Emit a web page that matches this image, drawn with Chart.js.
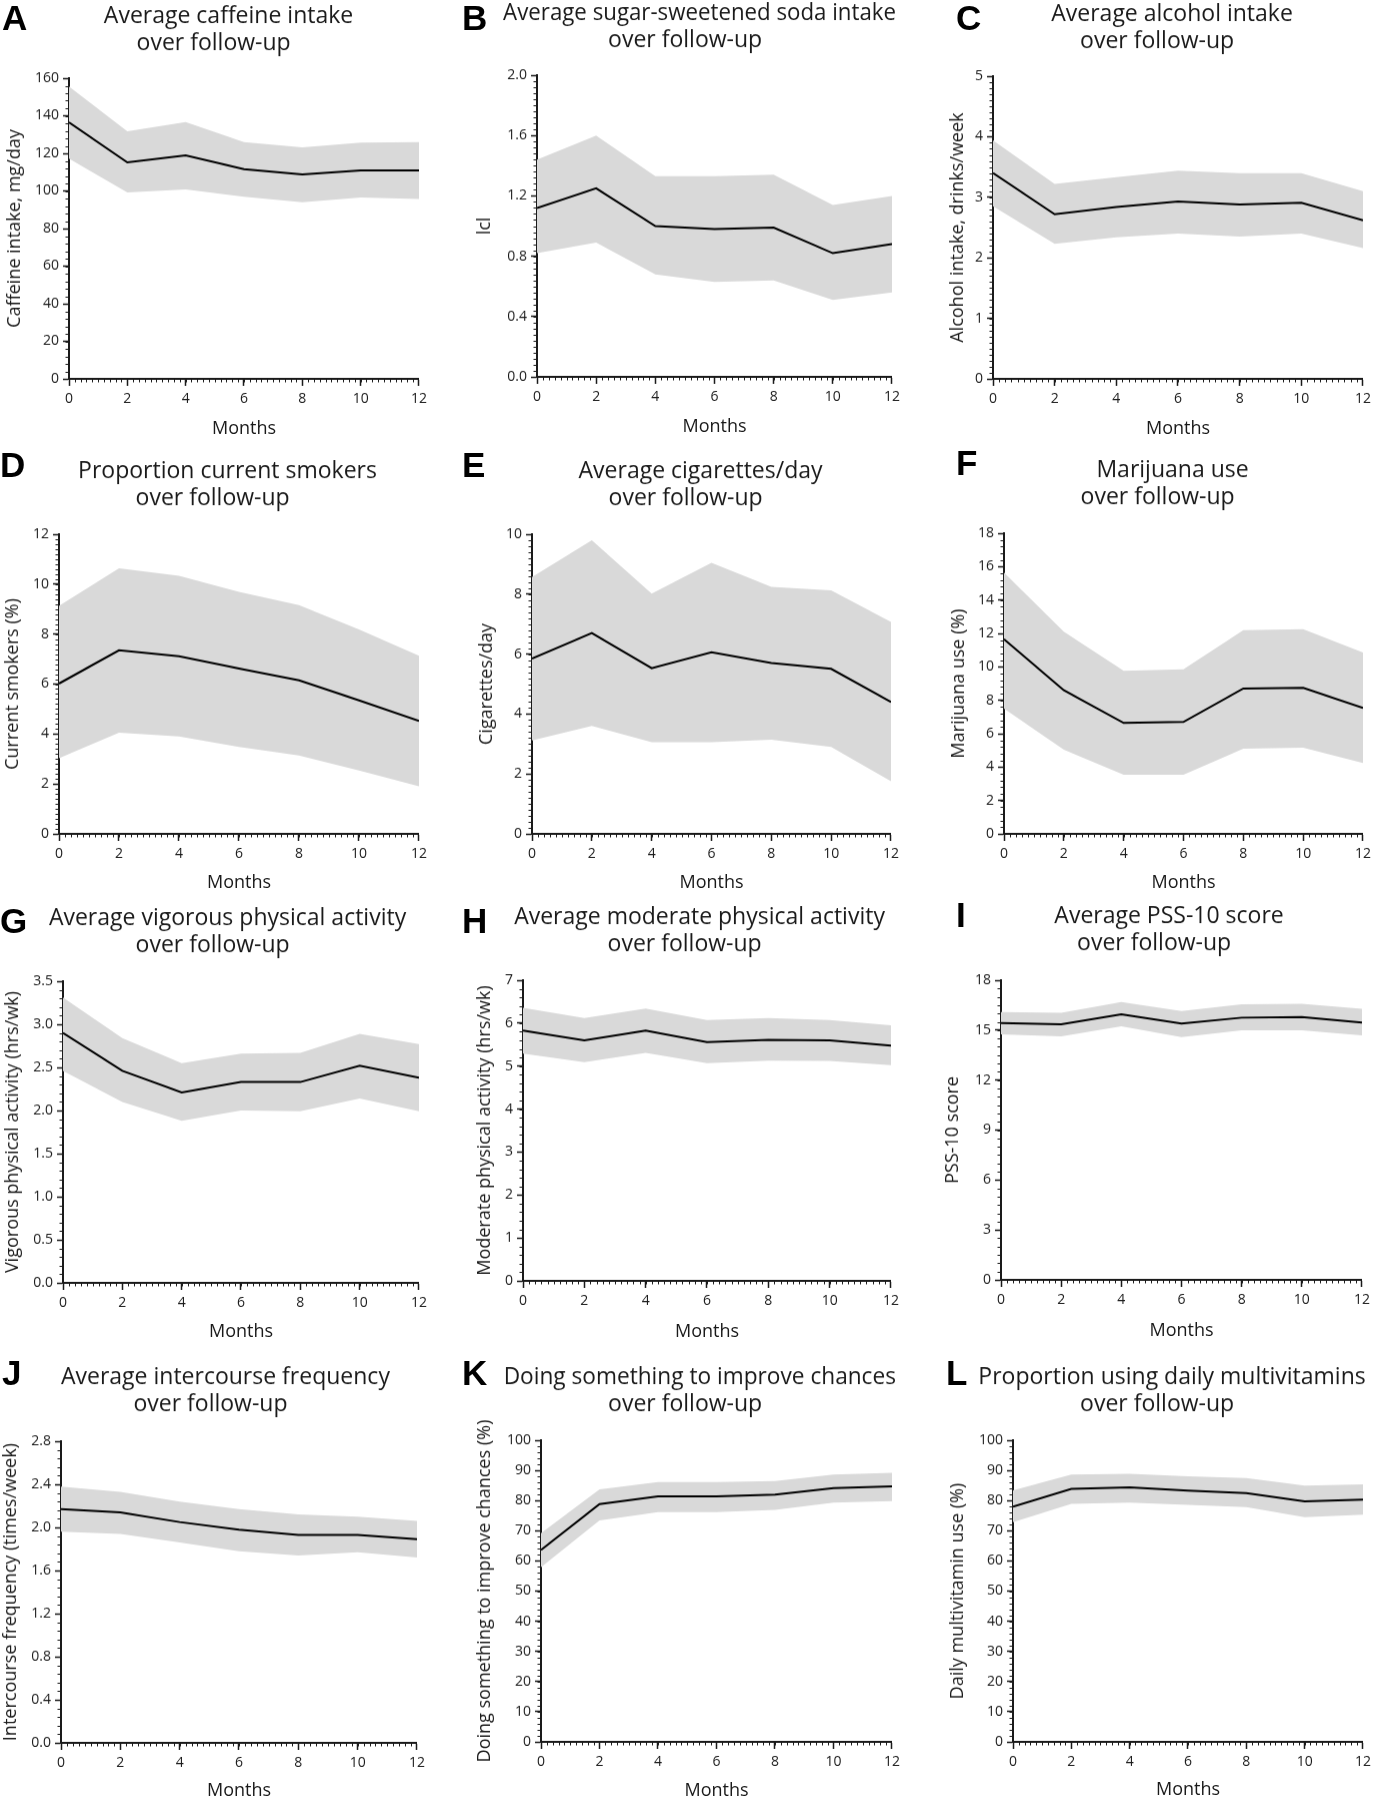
<!DOCTYPE html>
<html>
<head>
<meta charset="utf-8">
<script src="https://cdn.jsdelivr.net/npm/chart.js@4"></script>
<style>
  html, body { margin: 0; padding: 0; background: #fff; overflow: hidden; }
  body { width: 1376px; height: 1800px; position: relative; }
  .panel { position: absolute; }
  .letter { position: absolute; font: bold 35px/35px "Liberation Sans", Arial, sans-serif; color: #000; }
</style>
</head>
<body>
<script>
const months = [0, 2, 4, 6, 8, 10, 12];

// A caffeine
const caffeineMean  = [136.5, 115.2, 118.9, 111.6, 108.8, 110.9, 110.9];
const caffeineUpper = [155.6, 131.7, 136.7, 126.0, 123.2, 125.7, 126.0];
const caffeineLower = [117.2, 99.2, 100.8, 97.0, 94.0, 96.5, 95.8];
// B soda
const sodaMean  = [1.12, 1.25, 1.00, 0.98, 0.99, 0.82, 0.88];
const sodaUpper = [1.44, 1.60, 1.33, 1.33, 1.34, 1.14, 1.20];
const sodaLower = [0.82, 0.89, 0.68, 0.63, 0.64, 0.51, 0.56];
// C alcohol
const alcoholMean  = [3.40, 2.72, 2.84, 2.93, 2.88, 2.91, 2.62];
const alcoholUpper = [3.94, 3.22, 3.33, 3.44, 3.40, 3.40, 3.10];
const alcoholLower = [2.85, 2.23, 2.34, 2.40, 2.35, 2.40, 2.16];
// D smokers
const smokersMean  = [6.02, 7.35, 7.11, 6.62, 6.15, 5.35, 4.52];
const smokersUpper = [9.13, 10.64, 10.33, 9.69, 9.16, 8.19, 7.13];
const smokersLower = [3.03, 4.05, 3.90, 3.48, 3.14, 2.54, 1.91];
// E cigarettes
const cigMean  = [5.85, 6.70, 5.53, 6.06, 5.70, 5.51, 4.40];
const cigUpper = [8.57, 9.80, 8.02, 9.05, 8.24, 8.13, 7.07];
const cigLower = [3.12, 3.60, 3.06, 3.06, 3.14, 2.90, 1.76];
// F marijuana
const marijuanaMean  = [11.66, 8.60, 6.64, 6.70, 8.70, 8.74, 7.54];
const marijuanaUpper = [15.64, 12.10, 9.76, 9.86, 12.20, 12.26, 10.86];
const marijuanaLower = [7.50, 5.04, 3.54, 3.54, 5.10, 5.16, 4.24];
// G vigorous activity
const vigorousMean  = [2.90, 2.46, 2.21, 2.33, 2.33, 2.52, 2.38];
const vigorousUpper = [3.31, 2.84, 2.55, 2.66, 2.67, 2.89, 2.77];
const vigorousLower = [2.46, 2.10, 1.88, 2.00, 1.99, 2.14, 1.99];
// H moderate activity
const moderateMean  = [5.83, 5.60, 5.83, 5.56, 5.61, 5.60, 5.48];
const moderateUpper = [6.36, 6.12, 6.34, 6.07, 6.12, 6.07, 5.95];
const moderateLower = [5.29, 5.09, 5.31, 5.07, 5.13, 5.12, 5.02];
// I PSS-10
const pssMean  = [15.43, 15.35, 15.95, 15.39, 15.75, 15.79, 15.45];
const pssUpper = [16.09, 16.05, 16.69, 16.15, 16.55, 16.59, 16.29];
const pssLower = [14.75, 14.63, 15.23, 14.59, 14.99, 14.99, 14.69];
// J intercourse
const intercourseMean  = [2.17, 2.14, 2.05, 1.98, 1.93, 1.93, 1.89];
const intercourseUpper = [2.38, 2.33, 2.24, 2.17, 2.12, 2.10, 2.06];
const intercourseLower = [1.96, 1.94, 1.86, 1.78, 1.74, 1.77, 1.72];
// K improving chances
const improveMean  = [63.6, 78.8, 81.4, 81.4, 82.0, 84.1, 84.7];
const improveUpper = [69.2, 83.7, 86.1, 86.1, 86.5, 88.6, 89.2];
const improveLower = [57.9, 73.4, 76.2, 76.2, 76.9, 79.3, 79.8];
// L multivitamins
const vitaminMean  = [78.0, 83.9, 84.4, 83.3, 82.5, 79.7, 80.3];
const vitaminUpper = [83.4, 88.6, 88.9, 88.0, 87.5, 85.0, 85.4];
const vitaminLower = [72.8, 78.9, 79.3, 78.6, 77.8, 74.5, 75.3];

const panels = [
  {id: 'A', title: ['Average caffeine intake', 'over follow-up'], yTitle: 'Caffeine intake, mg/day',
   mean: caffeineMean, upper: caffeineUpper, lower: caffeineLower, yMax: 160, yStep: 20, yMinor: 4, dec: 0},
  {id: 'B', title: ['Average sugar-sweetened soda intake', 'over follow-up'], yTitle: 'lcl',
   mean: sodaMean, upper: sodaUpper, lower: sodaLower, yMax: 2, yStep: 0.4, yMinor: 0.04, dec: 1},
  {id: 'C', title: ['Average alcohol intake', 'over follow-up'], yTitle: 'Alcohol intake, drinks/week',
   mean: alcoholMean, upper: alcoholUpper, lower: alcoholLower, yMax: 5, yStep: 1, yMinor: 0.1, dec: 0},
  {id: 'D', title: ['Proportion current smokers', 'over follow-up'], yTitle: 'Current smokers (%)',
   mean: smokersMean, upper: smokersUpper, lower: smokersLower, yMax: 12, yStep: 2, yMinor: 0.2, dec: 0},
  {id: 'E', title: ['Average cigarettes/day', 'over follow-up'], yTitle: 'Cigarettes/day',
   mean: cigMean, upper: cigUpper, lower: cigLower, yMax: 10, yStep: 2, yMinor: 0.2, dec: 0},
  {id: 'F', title: ['Marijuana use', 'over follow-up'], yTitle: 'Marijuana use (%)',
   mean: marijuanaMean, upper: marijuanaUpper, lower: marijuanaLower, yMax: 18, yStep: 2, yMinor: 0.4, dec: 0},
  {id: 'G', title: ['Average vigorous physical activity', 'over follow-up'], yTitle: 'Vigorous physical activity (hrs/wk)',
   mean: vigorousMean, upper: vigorousUpper, lower: vigorousLower, yMax: 3.5, yStep: 0.5, yMinor: 0.1, dec: 1},
  {id: 'H', title: ['Average moderate physical activity', 'over follow-up'], yTitle: 'Moderate physical activity (hrs/wk)',
   mean: moderateMean, upper: moderateUpper, lower: moderateLower, yMax: 7, yStep: 1, yMinor: 0.2, dec: 0},
  {id: 'I', title: ['Average PSS-10 score', 'over follow-up'], yTitle: 'PSS-10 score',
   mean: pssMean, upper: pssUpper, lower: pssLower, yMax: 18, yStep: 3, yMinor: 0.5, dec: 0},
  {id: 'J', title: ['Average intercourse frequency', 'over follow-up'], yTitle: 'Intercourse frequency (times/week)',
   mean: intercourseMean, upper: intercourseUpper, lower: intercourseLower, yMax: 2.8, yStep: 0.4, yMinor: 0.08, dec: 1},
  {id: 'K', title: ['Doing something to improve chances', 'over follow-up'], yTitle: 'Doing something to improve chances (%)',
   mean: improveMean, upper: improveUpper, lower: improveLower, yMax: 100, yStep: 10, yMinor: 2, dec: 0},
  {id: 'L', title: ['Proportion using daily multivitamins', 'over follow-up'], yTitle: 'Daily multivitamin use (%)',
   mean: vitaminMean, upper: vitaminUpper, lower: vitaminLower, yMax: 100, yStep: 10, yMinor: 2, dec: 0}
];

// page geometry: plot box [left, top, right, bottom], y-title centre x, title line 1 centre y, "Months" centre y
const frames = {
  A: {plot: [69, 78, 423, 378],     yTitleX: 15,  titleY: 16,     monthsY: 428,  rowTop: 0,    letter: [2, 0]},
  B: {plot: [537, 75, 896, 376],    yTitleX: 485, titleY: 13.5,   monthsY: 426,  rowTop: 0,    letter: [462, 0]},
  C: {plot: [993, 76, 1367, 378],   yTitleX: 958, titleY: 14,     monthsY: 428,  rowTop: 0,    letter: [956, 0]},
  D: {plot: [59, 534, 423, 833],    yTitleX: 13,  titleY: 471.5,  monthsY: 882,  rowTop: 440,  letter: [0, 447]},
  E: {plot: [532, 534, 895, 833],   yTitleX: 487, titleY: 471,    monthsY: 882,  rowTop: 440,  letter: [462, 447]},
  F: {plot: [1004, 533, 1367, 833], yTitleX: 959, titleY: 470,    monthsY: 882,  rowTop: 440,  letter: [956, 445]},
  G: {plot: [63, 981, 423, 1282],   yTitleX: 13,  titleY: 918.5,  monthsY: 1331, rowTop: 890,  letter: [0, 903]},
  H: {plot: [523, 980, 895, 1280],  yTitleX: 485, titleY: 917.5,  monthsY: 1331, rowTop: 890,  letter: [462, 903]},
  I: {plot: [1001, 980, 1366, 1279],yTitleX: 953, titleY: 916,    monthsY: 1330, rowTop: 890,  letter: [956, 897]},
  J: {plot: [61, 1441, 421, 1742],  yTitleX: 10,  titleY: 1377.5, monthsY: 1790, rowTop: 1340, letter: [2, 1355]},
  K: {plot: [541, 1440, 896, 1741], yTitleX: 485, titleY: 1377.5, monthsY: 1790, rowTop: 1340, letter: [462, 1355]},
  L: {plot: [1013, 1440, 1367, 1741], yTitleX: 958, titleY: 1377.5, monthsY: 1789, rowTop: 1340, letter: [946, 1355]}
};

const BAND = '#d9d9d9';
const INK = '#1a1a1a';
const TITLE_LINE = 27;
const LINE1_INDENT = '     '; // first title line sits a little right of the second one
const X_TITLE_FONT = {family: "'Open Sans', sans-serif", size: 18, lineHeight: 1.2};
const Y_TITLE_FONT = {family: "'Open Sans', sans-serif", size: 18, lineHeight: 1.2};
const TICK_FONT = {family: "'Open Sans', sans-serif", size: 14};
const xTitleOff = X_TITLE_FONT.size * 1.2 / 2;
const yTitleOff = Y_TITLE_FONT.size * 1.2 / 2;

Chart.defaults.font.family = "'Open Sans', sans-serif";
Chart.defaults.color = INK;

// small minor ticks along both axes, placed with the chart's own scales
const minorTicks = {
  id: 'minorTicks',
  afterDraw(chart, args, opts) {
    const {ctx, chartArea, scales} = chart;
    ctx.save();
    ctx.strokeStyle = INK;
    ctx.lineWidth = 1;
    ctx.beginPath();
    const nx = Math.round((scales.x.max - scales.x.min) / opts.xStep);
    for (let i = 1; i < nx; i++) {
      const px = Math.round(scales.x.getPixelForValue(i * opts.xStep)) + 0.5;
      ctx.moveTo(px, chartArea.bottom);
      ctx.lineTo(px, chartArea.bottom + 3.5);
    }
    const ny = Math.round((scales.y.max - scales.y.min) / opts.yStep);
    for (let i = 1; i < ny; i++) {
      const py = Math.round(scales.y.getPixelForValue(i * opts.yStep)) + 0.5;
      ctx.moveTo(chartArea.left, py);
      ctx.lineTo(chartArea.left - 3.5, py);
    }
    ctx.stroke();
    ctx.restore();
  }
};

panels.forEach(p => {
  const f = frames[p.id];
  const [L, T, R, B] = f.plot;
  const left = Math.max(0, Math.round(f.yTitleX - yTitleOff));
  const padLeft = Math.max(0, f.yTitleX - yTitleOff - left);
  const right = Math.min(1376, R + 9);
  const top = f.rowTop;
  const bottom = f.monthsY + xTitleOff + 2;
  const titleTop = Math.max(0, f.titleY - top - TITLE_LINE / 2);
  const titleBottom = (T - top) - titleTop - 2 * TITLE_LINE;

  const box = document.createElement('div');
  box.className = 'panel';
  box.style.left = left + 'px';
  box.style.top = top + 'px';
  box.style.width = (right - left) + 'px';
  box.style.height = (bottom - top) + 'px';
  const canvas = document.createElement('canvas');
  box.appendChild(canvas);
  document.body.appendChild(box);

  const letter = document.createElement('div');
  letter.className = 'letter';
  letter.textContent = p.id;
  letter.style.left = f.letter[0] + 'px';
  letter.style.top = f.letter[1] + 'px';
  document.body.appendChild(letter);

  const pts = arr => months.map((m, i) => ({x: m, y: arr[i]}));

  new Chart(canvas, {
    type: 'line',
    data: {
      datasets: [
        {data: pts(p.mean), borderColor: '#000', borderWidth: 2, pointRadius: 0, fill: false},
        {data: pts(p.upper), borderWidth: 0, borderColor: BAND, pointRadius: 0, backgroundColor: BAND, fill: '+1'},
        {data: pts(p.lower), borderWidth: 0, borderColor: BAND, pointRadius: 0, fill: false}
      ]
    },
    options: {
      responsive: true,
      maintainAspectRatio: false,
      animation: false,
      layout: {padding: {left: padLeft, right: right - R, top: 0, bottom: 2}},
      plugins: {
        legend: {display: false},
        tooltip: {enabled: false},
        filler: {drawTime: 'beforeDatasetsDraw'},
        title: {
          display: true,
          text: [LINE1_INDENT + p.title[0], p.title[1]],
          color: INK,
          font: {size: 23, weight: 'normal', lineHeight: TITLE_LINE + 'px'},
          padding: {top: titleTop, bottom: titleBottom}
        },
        minorTicks: {xStep: 0.2, yStep: p.yMinor}
      },
      scales: {
        x: {
          type: 'linear', min: 0, max: 12,
          ticks: {stepSize: 2, font: TICK_FONT, color: INK, padding: 5, maxRotation: 0},
          grid: {drawOnChartArea: false, tickLength: 7, tickWidth: 1.5, tickColor: INK},
          border: {color: INK, width: 2},
          title: {display: true, text: 'Months', font: X_TITLE_FONT, color: INK, padding: 0},
          afterFit: s => { s.height = f.monthsY + xTitleOff - B; }
        },
        y: {
          type: 'linear', min: 0, max: p.yMax,
          ticks: {stepSize: p.yStep, font: TICK_FONT, color: INK, padding: 4,
                  callback: v => Number(v).toFixed(p.dec)},
          grid: {drawOnChartArea: false, tickLength: 6, tickWidth: 1.5, tickColor: INK},
          border: {color: INK, width: 2},
          title: {display: true, text: p.yTitle, font: Y_TITLE_FONT, color: INK, padding: 0},
          afterFit: s => { s.width = (L - left) - padLeft; }
        }
      }
    },
    plugins: [minorTicks]
  });
});
</script>
</body>
</html>
